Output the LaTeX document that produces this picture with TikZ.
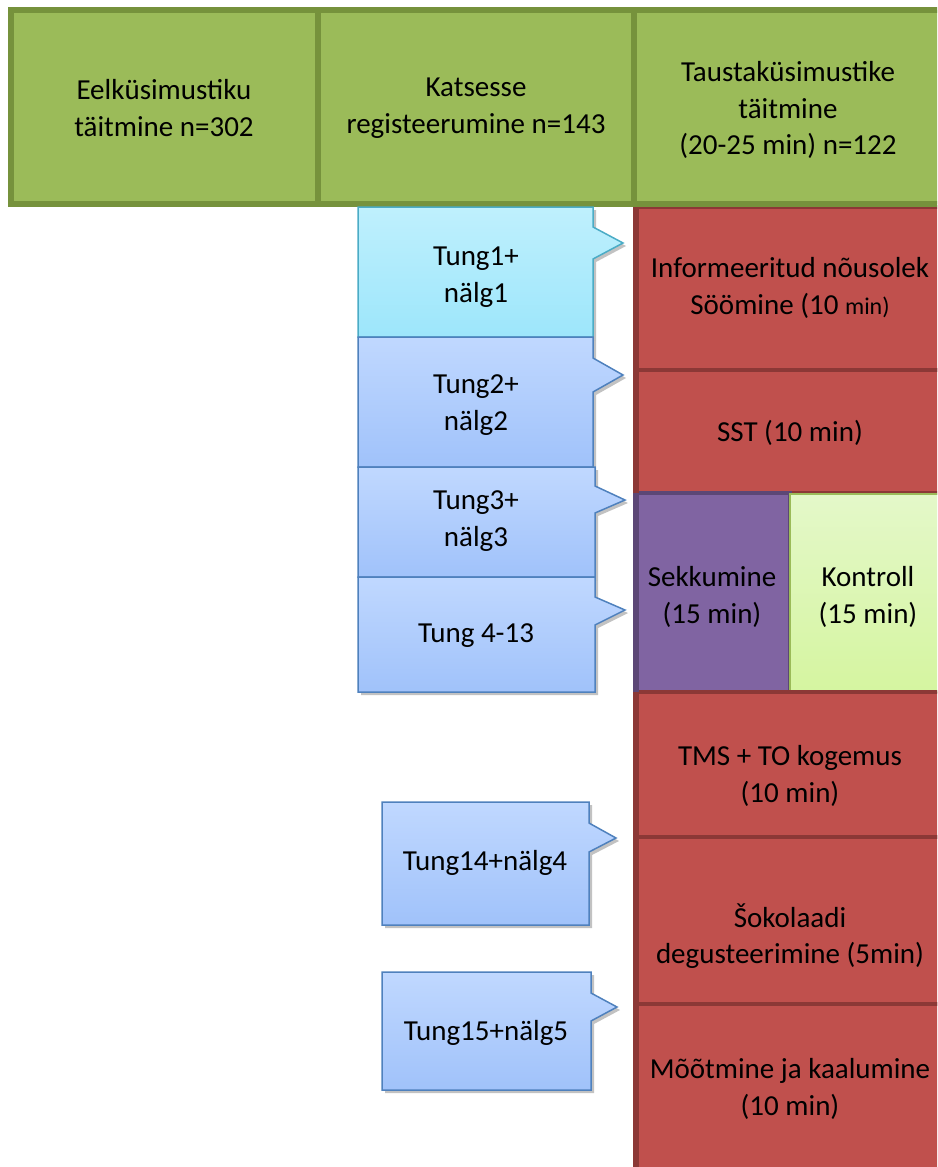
\documentclass[tikz,border=0pt]{standalone}
\usepackage{fontspec}
\setmainfont{Carlito}
\definecolor{grfill}{HTML}{9BBB59}
\definecolor{grline}{HTML}{76923C}
\definecolor{redfill}{HTML}{C0504D}
\definecolor{redline}{HTML}{8C3836}
\definecolor{purfill}{HTML}{8064A2}
\definecolor{purline}{HTML}{5C4776}
\definecolor{ktop}{HTML}{E4F8C9}
\definecolor{kbot}{HTML}{D5F5A0}
\definecolor{btop}{HTML}{C0D8FF}
\definecolor{bbot}{HTML}{A0C2FA}
\definecolor{bline}{HTML}{4F81BD}
\definecolor{ctop}{HTML}{BFF0FD}
\definecolor{cbot}{HTML}{9DE6FB}
\definecolor{cline}{HTML}{4BACC6}
\tikzset{
  greenbox/.style={fill=grfill,draw=grline,line width=6pt},
  redbox/.style={fill=redfill,draw=redline,line width=4pt},
  purbox/.style={fill=purfill,draw=purline,line width=4pt},
  kontbox/.style={top color=ktop,bottom color=kbot,draw=grfill,line width=2pt},
  bluecall/.style={top color=btop,bottom color=bbot,draw=bline,line width=1.5pt,line join=miter},
  cyancall/.style={top color=ctop,bottom color=cbot,draw=cline,line width=1.5pt,line join=miter},
  callshadow/.style={fill=black!40,opacity=0.6},
  lbl/.style={align=center,font=\fontsize{29}{36.5}\selectfont,text=black,inner sep=0pt}
}
\newcommand\mycallout[9]{%
  \fill[callshadow] (#1+3,#2+3) -- (#3+3,#2+3) -- (#3+3,#5+3) -- (#6+3,#7+3) -- (#3+3,#8+3) -- (#3+3,#4+3) -- (#1+3,#4+3) -- cycle;
  \path[#9] (#1,#2) -- (#3,#2) -- (#3,#5) -- (#6,#7) -- (#3,#8) -- (#3,#4) -- (#1,#4) -- cycle;
}
\begin{document}
\begin{tikzpicture}[x=1pt,y=-1pt]
\useasboundingbox (0,0) rectangle (937,1167);
\clip (0,0) rectangle (937,1167);
% red column
\path[redbox] (636,207) rectangle (960,370);
\path[redbox] (636,370) rectangle (960,493);
\path[purbox] (636,493) rectangle (790,692);
\path[kontbox] (790,494) rectangle (960,692);
\path[redbox] (636,692) rectangle (960,837);
\path[redbox] (636,837) rectangle (960,1004);
\path[redbox] (636,1004) rectangle (960,1190);
\draw[redline,line width=6pt] (636,207) -- (636,493);
\draw[purline,line width=6pt] (636,493) -- (636,692);
\draw[redline,line width=6pt] (636,692) -- (636,1190);
% green top row
\path[greenbox] (11,10) rectangle (318,204);
\path[greenbox] (318,10) rectangle (634,204);
\path[greenbox] (634,10) rectangle (960,204);
% callouts
\mycallout{358}{207}{593}{337}{227}{623}{243}{259}{cyancall}
\mycallout{358}{337}{593}{467}{358}{623}{375}{392}{bluecall}
\mycallout{358}{467}{595}{577}{486}{625}{500}{513}{bluecall}
\mycallout{358}{577}{595}{692}{597}{625}{610}{625}{bluecall}
\mycallout{382}{802}{589}{925}{823}{616}{838}{852}{bluecall}
\mycallout{382}{972}{591}{1090}{993}{617}{1007}{1021}{bluecall}
% labels
\node[lbl] (g1) at (164,108) {Eelküsimustiku\\täitmine n=302};
\node[lbl] (g2) at (476,108) {Katsesse\\registeerumine n=143};
\node[lbl] (g3) at (788,110) {Taustaküsimustike\\täitmine\\(20-25 min) n=122};
\node[lbl] (r1) at (790,288) {Informeeritud nõusolek\\Söömine (10 {\fontsize{24}{36}\selectfont min)}};
\node[lbl] (r2) at (790,433) {SST (10 min)};
\node[lbl] (pu) at (712,597) {Sekkumine\\(15 min)};
\node[lbl] (ko) at (868,597) {Kontroll\\(15 min)};
\node[lbl] (r3) at (790,776) {TMS + TO kogemus\\(10 min)};
\node[lbl] (r4) at (790,936) {Šokolaadi\\degusteerimine (5min)};
\node[lbl] (r5) at (790,1089) {Mõõtmine ja kaalumine\\(10 min)};
\node[lbl] (t1) at (476,277) {Tung1+\\nälg1};
\node[lbl] (t2) at (476,405) {Tung2+\\nälg2};
\node[lbl] (t3) at (476,521) {Tung3+\\nälg3};
\node[lbl] (t4) at (476,636) {Tung 4-13};
\node[lbl] (t14) at (485,863) {Tung14+nälg4};
\node[lbl] (t15) at (486,1033) {Tung15+nälg5};
\end{tikzpicture}
\end{document}
